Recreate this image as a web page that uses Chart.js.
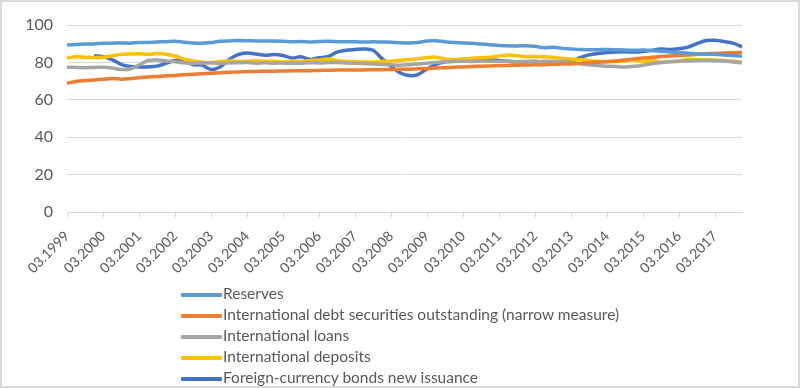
<!DOCTYPE html>
<html>
<head>
<meta charset="utf-8">
<script src="https://cdn.jsdelivr.net/npm/chart.js@4"></script>
<style>
    body { margin: 0; background: #fff; }
    #wrap { position: relative; width: 800px; height: 388px; overflow: hidden; }
    #frame { position: absolute; left: 0; top: 0; width: 800px; height: 388px; box-sizing: border-box; border: 2px solid #d9d9d9; pointer-events: none; }
    #legend { position: absolute; left: 181px; top: 283px; font-family: Lato, sans-serif; font-size: 15.5px; color: #595959; }
    .item { height: 21px; line-height: 21px; white-space: nowrap; }
    .swatch { display: inline-block; width: 41px; height: 3.5px; vertical-align: middle; margin-right: 1px; border-radius: 1px; }
</style>
</head>
<body>
<div id="wrap">
    <canvas id="chart" width="800" height="388"></canvas>
    <div id="legend"></div>
    <div id="frame"></div>
</div>
<script>
// quarterly data, 03.1999 - 12.2017
var years = [1999, 2000, 2001, 2002, 2003, 2004, 2005, 2006, 2007, 2008, 2009, 2010, 2011, 2012, 2013, 2014, 2015, 2016, 2017];
var months = ["03", "06", "09", "12"];
var yTicks = [0, 20, 40, 60, 80, 100];

var reserves = [
    89.3, 89.6, 89.8, 89.9, 90.2, 90.3, 90.4, 90.3, 90.6, 90.7, 90.9, 91.1,
    91.3, 90.8, 90.4, 90.3, 90.6, 91.3, 91.5, 91.7, 91.6, 91.5, 91.4, 91.4,
    91.3, 91.0, 91.2, 90.9, 91.2, 91.3, 91.1, 91.0, 91.0, 90.9, 91.0, 90.9,
    90.8, 90.5, 90.4, 90.6, 91.4, 91.6, 91.0, 90.6, 90.4, 90.2, 89.8, 89.5,
    89.1, 88.9, 88.8, 88.9, 88.6, 87.9, 88.1, 87.5, 87.2, 86.9, 86.8, 86.8,
    86.9, 86.8, 86.6, 86.5, 86.6, 86.4, 86.0, 85.6, 85.3, 84.9, 84.6, 84.4,
    84.3, 84.0, 83.7, 83.3
];
var debtSecurities = [
    68.9, 69.8, 70.3, 70.6, 71.0, 71.4, 71.0, 71.3, 71.8, 72.2, 72.5, 72.8,
    73.0, 73.4, 73.6, 73.9, 74.2, 74.5, 74.7, 74.9, 75.1, 75.2, 75.3, 75.3,
    75.4, 75.5, 75.6, 75.6, 75.7, 75.8, 75.9, 75.9, 76.0, 76.0, 76.1, 76.1,
    76.2, 76.3, 76.4, 76.6, 76.8, 77.0, 77.2, 77.4, 77.6, 77.8, 78.0, 78.1,
    78.2, 78.4, 78.5, 78.6, 78.7, 78.8, 79.0, 79.1, 79.2, 79.5, 79.8, 80.1,
    80.4, 80.8, 81.3, 81.8, 82.3, 82.7, 83.1, 83.4, 83.7, 84.0, 84.3, 84.6,
    84.8, 85.0, 85.2, 85.4
];
var loans = [
    77.4, 77.3, 77.2, 77.3, 77.4, 77.0, 76.2, 76.5, 78.5, 81.0, 81.3, 80.8,
    80.4, 79.8, 79.5, 79.7, 79.8, 79.5, 79.7, 79.8, 79.9, 79.6, 79.8, 79.6,
    79.7, 79.5, 79.6, 79.8, 79.7, 79.9, 80.0, 79.7, 79.5, 79.4, 79.2, 78.9,
    78.7, 78.5, 78.8, 79.2, 79.6, 80.0, 80.3, 80.5, 80.6, 80.5, 80.7, 80.6,
    80.5, 80.6, 80.4, 80.5, 80.4, 80.6, 80.5, 80.3, 80.0, 79.3, 78.7, 78.3,
    78.0, 77.8, 77.6, 77.9, 78.5, 79.3, 80.0, 80.4, 80.6, 80.8, 81.0, 81.1,
    81.0, 80.7, 80.2, 79.8
];
var deposits = [
    82.3, 83.0, 82.8, 82.6, 82.8, 83.5, 84.3, 84.5, 84.6, 84.4, 84.7, 84.3,
    83.4, 81.8, 80.8, 80.2, 79.8, 80.5, 80.8, 80.5, 80.6, 80.9, 80.5, 80.6,
    80.2, 80.6, 80.5, 81.0, 81.3, 81.8, 81.0, 80.5, 80.3, 80.2, 80.1, 80.5,
    80.8, 81.1, 81.5, 82.0, 82.6, 82.8, 81.8, 81.4, 81.8, 82.2, 82.5, 82.8,
    83.4, 84.0, 83.6, 83.0, 83.2, 83.0, 82.7, 82.2, 81.8, 81.5, 81.0, 80.6,
    80.5, 80.6, 80.8, 81.4, 80.3, 81.2, 79.9, 80.5, 80.8, 81.6, 81.4, 81.3,
    81.3, 81.0, 80.6, 80.1
];
var bondIssuance = [
    null, null, null, 83.6, 83.1, 81.5, 79.0, 77.8, 77.5, 77.6, 78.0, 79.5,
    81.0, 81.2, 78.8, 78.6, 76.2, 77.5, 81.5, 84.2, 85.0, 84.5, 83.8, 84.2,
    83.7, 82.4, 83.0, 81.6, 82.5, 83.0, 85.5, 86.5, 86.9, 87.2, 86.5, 82.0,
    78.0, 74.5, 73.0, 73.5, 76.5, 79.0, 80.3, 81.0, 81.7, 81.8, 82.0, 81.5,
    81.0, 80.6, 80.3, 80.4, 80.6, 80.2, 80.5, 80.5, 80.6, 82.5, 84.0, 84.8,
    85.3, 85.6, 85.7, 85.5, 85.8, 86.5, 87.1, 86.9, 87.3, 88.2, 90.0, 91.7,
    91.8, 91.2, 90.3, 88.3
];

var labels = [];
years.forEach(function (y) {
    months.forEach(function (m) {
        labels.push(m + "." + y);
    });
});

var textColor = "#595959";
var gridColor = "#d9d9d9";

function series(label, data, color) {
    return {
        label: label,
        data: data,
        borderColor: color,
        backgroundColor: color,
        borderWidth: 3.5,
        pointRadius: 0,
        tension: 0.3,
        spanGaps: false,
    };
}

var ctx = document.getElementById("chart").getContext("2d");
var chart = new Chart(ctx, {
    type: "line",
    data: {
        labels: labels,
        datasets: [
            series("Reserves", reserves, "#5b9bd5"),
            series("International debt securities outstanding (narrow measure)", debtSecurities, "#ed7d31"),
            series("International loans", loans, "#a5a5a5"),
            series("International deposits", deposits, "#ffc000"),
            series("Foreign-currency bonds new issuance", bondIssuance, "#4472c4"),
        ],
    },
    options: {
        responsive: false,
        animation: false,
        layout: { padding: { left: 0, top: 25, right: 58, bottom: 0 } },
        plugins: {
            legend: { display: false },
            tooltip: { enabled: false },
        },
        scales: {
            x: {
                offset: false,
                afterFit: function (scale) {
                    scale.height = 388 - 212;
                },
                grid: {
                    drawOnChartArea: false,
                    drawTicks: true,
                    tickLength: 5,
                    color: function (c) {
                        return c.index % 4 === 0 ? gridColor : "rgba(0,0,0,0)";
                    },
                },
                border: { color: gridColor },
                ticks: {
                    autoSkip: false,
                    minRotation: 45,
                    maxRotation: 45,
                    padding: 11,
                    color: textColor,
                    font: { family: "Lato", size: 14 },
                    callback: function (value, index) {
                        return index % 4 === 0 ? labels[index] : "";
                    },
                },
            },
            y: {
                min: 0,
                max: 100,
                afterFit: function (scale) {
                    scale.width = 67;
                },
                afterBuildTicks: function (scale) {
                    scale.ticks = yTicks.map(function (v) { return { value: v }; });
                },
                grid: { color: gridColor, drawTicks: false },
                border: { display: false },
                ticks: {
                    padding: 14,
                    color: textColor,
                    font: { family: "Lato", size: 16 },
                },
            },
        },
    },
});

// vertical legend under the chart
var legend = document.getElementById("legend");
chart.data.datasets.forEach(function (ds) {
    var row = document.createElement("div");
    row.className = "item";
    var sw = document.createElement("span");
    sw.className = "swatch";
    sw.style.background = ds.borderColor;
    row.appendChild(sw);
    row.appendChild(document.createTextNode(ds.label));
    legend.appendChild(row);
});
</script>
</body>
</html>
